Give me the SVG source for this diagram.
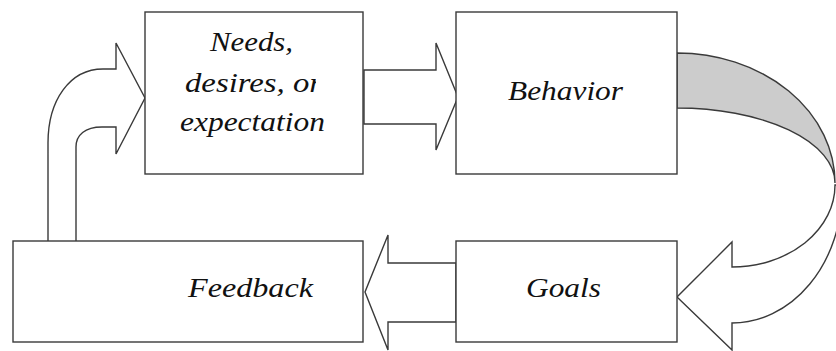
<svg xmlns="http://www.w3.org/2000/svg" width="836" height="351" viewBox="0 0 836 351">
<style>
.box{fill:#fff;stroke:#3a3a3a;stroke-width:1.4}
.arr{fill:#fff;stroke:#3a3a3a;stroke-width:1.4;stroke-linejoin:miter}
.back{fill:#cccccc;stroke:#3a3a3a;stroke-width:1.4}
.lbl{font-family:"Liberation Serif","Times New Roman",serif;font-style:italic;font-size:28px;fill:#111}
</style>
<defs>
<clipPath id="clipOr"><rect x="140" y="60" width="176" height="45"/></clipPath>
</defs>
<rect width="836" height="351" fill="#fff"/>
<g id="connectors">
<polygon class="arr" points="364,70 436,70 436,43 458,97 436,150 436,124 364,124"/>
<polygon class="arr" points="456,263 388,263 388,235 365,292 388,350 388,322 456,322"/>
<path class="arr" d="M48,241 L48,143 C48,100 70,69 103,69 L116,69 L116,43 L145,98 L116,154 L116,127 L102,127 C85,127 76,135 76,147 L76,241"/>
<path class="back" d="M677,53 A158,130 0 0 1 835,183 A158,75 0 0 0 677,108 Z"/>
<path class="arr" d="M835,185 A103,82 0 0 1 732,267 L732,242 L677,297 L732,350 L732,323 A110,133 0 0 0 842,190 L842,185 Z"/>
</g>
<g id="needs">
<rect class="box" x="145" y="12" width="218" height="162"/>
<text class="lbl" x="210" y="51" textLength="83" lengthAdjust="spacingAndGlyphs">Needs,</text>
<text class="lbl" x="185" y="92" textLength="137" lengthAdjust="spacingAndGlyphs" clip-path="url(#clipOr)">desires, or</text>
<text class="lbl" x="180" y="131" textLength="145" lengthAdjust="spacingAndGlyphs">expectation</text>
</g>
<g id="behavior">
<rect class="box" x="456" y="12" width="221" height="162"/>
<text class="lbl" x="508" y="100" textLength="115" lengthAdjust="spacingAndGlyphs">Behavior</text>
</g>
<g id="feedback">
<rect class="box" x="13" y="241" width="350" height="101"/>
<text class="lbl" x="188" y="297" textLength="125" lengthAdjust="spacingAndGlyphs">Feedback</text>
</g>
<g id="goals">
<rect class="box" x="456" y="241" width="221" height="101"/>
<text class="lbl" x="526" y="297" textLength="75" lengthAdjust="spacingAndGlyphs">Goals</text>
</g>
</svg>
